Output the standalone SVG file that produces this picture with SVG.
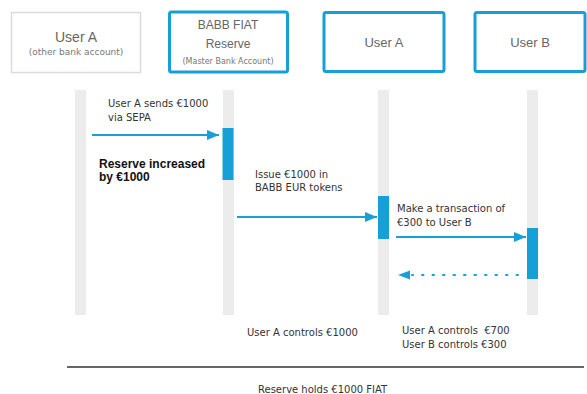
<svg xmlns="http://www.w3.org/2000/svg" width="587" height="394" viewBox="0 0 587 394">
<style>
  .t { font-family: "DejaVu Sans", "Liberation Sans", sans-serif; fill: #333; font-size: 10px; }
  .b { font-family: "Liberation Sans", Arial, sans-serif; fill: #111; font-size: 12px; font-weight: bold; }
  .hdr { font-family: "Liberation Sans", Arial, sans-serif; fill: #666; text-anchor: middle; }
  .sub { font-family: "DejaVu Sans", "Liberation Sans", sans-serif; fill: #777; text-anchor: middle; }
  .box { fill: #fff; stroke: #17a0d8; stroke-width: 3; }
  .life { fill: #ececec; }
  .act { fill: #17a0d8; }
  .msg { stroke: #17a0d8; stroke-width: 2; fill: none; }
</style>
<defs>
  <marker id="ah" markerWidth="12" markerHeight="10" refX="12" refY="5" orient="auto" markerUnits="userSpaceOnUse">
    <path d="M0,0 L12,5 L0,10 Z" fill="#17a0d8"/>
  </marker>
</defs>
<rect width="587" height="394" fill="#fff"/>

<g id="lifelines">
  <rect class="life" x="75" y="90" width="11" height="225"/>
  <rect class="life" x="223" y="90" width="11" height="225"/>
  <rect class="life" x="378" y="90" width="11" height="225"/>
  <rect class="life" x="527" y="90" width="11" height="225"/>
</g>

<g id="userA-bank">
  <rect x="11.5" y="12.5" width="129" height="60" fill="#fff" stroke="#dcdcdc" stroke-width="1.5"/>
  <text class="hdr" x="76" y="42" font-size="14">User A</text>
  <text class="sub" x="76" y="55" font-size="9">(other bank account)</text>
</g>
<g id="reserve">
  <rect class="box" x="169.5" y="12" width="118" height="60" rx="2"/>
  <text class="hdr" x="228" y="29" font-size="12">BABB FIAT</text>
  <text class="hdr" x="228" y="48" font-size="12">Reserve</text>
  <text class="sub" x="228" y="64" font-size="8">(Master Bank Account)</text>
</g>
<g id="userA">
  <rect class="box" x="324" y="12.5" width="120" height="59" rx="2"/>
  <text class="hdr" x="384" y="47" font-size="13">User A</text>
</g>
<g id="userB">
  <rect class="box" x="475" y="12.5" width="110" height="59" rx="2"/>
  <text class="hdr" x="530" y="47" font-size="13">User B</text>
</g>

<g id="activations">
  <rect class="act" x="222.5" y="128" width="11" height="52"/>
  <rect class="act" x="378" y="196" width="11" height="43"/>
  <rect class="act" x="527" y="228" width="11" height="51"/>
</g>

<g id="connectors">
  <line class="msg" x1="92" y1="135" x2="219" y2="135" marker-end="url(#ah)"/>
  <line class="msg" x1="237" y1="217" x2="377" y2="217" marker-end="url(#ah)"/>
  <line class="msg" x1="396" y1="237" x2="526" y2="237" marker-end="url(#ah)"/>
  <line x1="518" y1="275" x2="412" y2="275" stroke="#17a0d8" stroke-width="2" stroke-dasharray="1.5 9" stroke-linecap="round"/>
  <path d="M398,275 L410,270.5 L410,279.5 Z" fill="#17a0d8"/>
</g>

<g id="labels">
  <text class="t" x="108" y="107">User A sends €1000</text>
  <text class="t" x="108" y="121">via SEPA</text>
  <text class="b" x="99" y="168">Reserve increased</text>
  <text class="b" x="99" y="181">by €1000</text>
  <text class="t" x="255" y="178">Issue €1000 in</text>
  <text class="t" x="255" y="191">BABB EUR tokens</text>
  <text class="t" x="397" y="212">Make a transaction of</text>
  <text class="t" x="397" y="226">€300 to User B</text>
  <text class="t" x="247" y="336">User A controls €1000</text>
  <text class="t" x="402" y="334" xml:space="preserve">User A controls  €700</text>
  <text class="t" x="402" y="348">User B controls €300</text>
  <text class="t" x="258" y="393">Reserve holds €1000 FIAT</text>
</g>

<line x1="67" y1="367" x2="584" y2="367" stroke="#333" stroke-width="1.5"/>
</svg>
